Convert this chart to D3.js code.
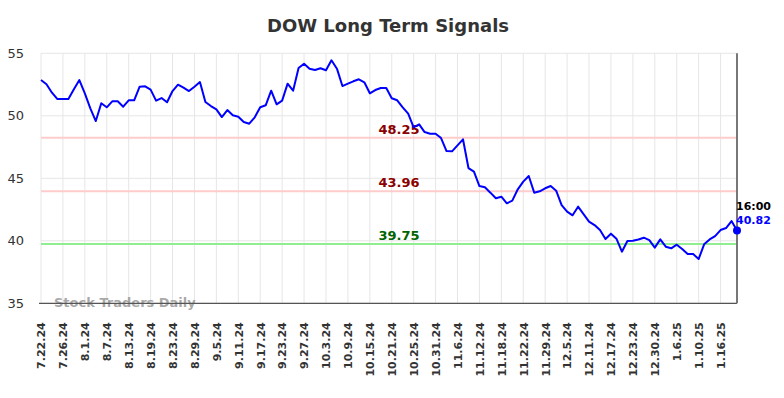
<!DOCTYPE html>
<html><head><meta charset="utf-8">
<script src="https://cdn.jsdelivr.net/npm/d3@7"></script>
<style>body{margin:0;background:#fff;}svg{display:block;font-family:"DejaVu Sans",sans-serif;}</style>
</head><body><svg id="c" width="784" height="398"></svg>
<script>
const dates = ["7.22.24","7.23.24","7.24.24","7.25.24","7.26.24","7.29.24","7.30.24","7.31.24",
"8.1.24","8.2.24","8.5.24","8.6.24","8.7.24","8.8.24","8.9.24","8.12.24","8.13.24","8.14.24","8.15.24","8.16.24",
"8.19.24","8.20.24","8.21.24","8.22.24","8.23.24","8.26.24","8.27.24","8.28.24","8.29.24","8.30.24",
"9.3.24","9.4.24","9.5.24","9.6.24","9.9.24","9.10.24","9.11.24","9.12.24","9.13.24","9.16.24","9.17.24","9.18.24","9.19.24","9.20.24",
"9.23.24","9.24.24","9.25.24","9.26.24","9.27.24","9.30.24",
"10.1.24","10.2.24","10.3.24","10.4.24","10.7.24","10.8.24","10.9.24","10.10.24","10.11.24","10.14.24","10.15.24","10.16.24","10.17.24","10.18.24",
"10.21.24","10.22.24","10.23.24","10.24.24","10.25.24","10.28.24","10.29.24","10.30.24","10.31.24",
"11.1.24","11.4.24","11.5.24","11.6.24","11.7.24","11.8.24","11.11.24","11.12.24","11.13.24","11.14.24","11.15.24",
"11.18.24","11.19.24","11.20.24","11.21.24","11.22.24","11.25.24","11.26.24","11.27.24","11.29.24",
"12.2.24","12.3.24","12.4.24","12.5.24","12.6.24","12.9.24","12.10.24","12.11.24","12.12.24","12.13.24",
"12.16.24","12.17.24","12.18.24","12.19.24","12.20.24","12.23.24","12.24.24","12.26.24","12.27.24","12.30.24","12.31.24",
"1.2.25","1.3.25","1.6.25","1.7.25","1.8.25","1.9.25","1.10.25","1.13.25","1.14.25","1.15.25","1.16.25","1.17.25","1.21.25","1.22.25"];
const prices = [52.86,52.52,51.85,51.34,51.34,51.34,52.12,52.86,51.8,50.6,
49.58,51.0,50.68,51.16,51.16,50.73,51.24,51.24,52.33,52.36,
52.09,51.21,51.42,51.08,51.98,52.49,52.25,51.98,52.33,52.7,
51.1,50.78,50.52,49.9,50.46,50.04,49.93,49.5,49.37,49.88,
50.68,50.84,52.01,50.92,51.21,52.57,52.01,53.82,54.17,53.77,
53.66,53.8,53.64,54.44,53.77,52.38,52.57,52.76,52.92,52.68,
51.8,52.06,52.22,52.22,51.4,51.24,50.68,50.17,49.08,49.32,
48.7,48.57,48.57,48.22,47.18,47.16,47.64,48.12,45.82,45.53,
44.38,44.28,43.85,43.4,43.53,43.0,43.21,44.12,44.73,45.18,
43.85,43.96,44.2,44.38,44.01,42.86,42.33,42.04,42.73,42.14,
41.53,41.26,40.86,40.14,40.57,40.17,39.13,39.98,40.01,40.11,
40.25,40.06,39.45,40.11,39.53,39.4,39.69,39.34,38.94,38.94,
38.54,39.72,40.11,40.38,40.86,41.02,41.58,40.82];
const tickLabels = ["7.22.24","7.26.24","8.1.24","8.7.24","8.13.24","8.19.24","8.23.24","8.29.24","9.5.24","9.11.24","9.17.24","9.23.24","9.27.24","10.3.24","10.9.24","10.15.24","10.21.24","10.25.24","10.31.24","11.6.24","11.12.24","11.18.24","11.22.24","11.29.24","12.5.24","12.11.24","12.17.24","12.23.24","12.30.24","1.6.25","1.10.25","1.16.25"];
const yTicks = [35,40,45,50,55];
const levels = [48.25, 43.96, 39.75];
const levelKinds = ["res","res","sup"];
const lastTime = "16:00";

const svg = d3.select("#c");
const m = {l:41, r:737, t:53.3, b:303.3};
const x = d3.scalePoint().domain(dates).range([m.l, m.r]);
const y = d3.scaleLinear().domain([35,55]).range([m.b, m.t]);

// grid
svg.append("g").selectAll("line").data(yTicks).join("line")
  .attr("x1", m.l).attr("x2", m.r).attr("y1", d=>y(d)).attr("y2", d=>y(d))
  .attr("stroke","#e6e6e6").attr("stroke-width",1);
svg.append("g").selectAll("line").data(tickLabels).join("line")
  .attr("x1", d=>x(d)).attr("x2", d=>x(d)).attr("y1", m.t).attr("y2", m.b)
  .attr("stroke","#e6e6e6").attr("stroke-width",1);

// y axis labels
const ya = svg.append("g").attr("transform",`translate(${m.l},0)`)
  .call(d3.axisLeft(y).tickValues(yTicks).tickSize(0).tickPadding(17));
ya.select(".domain").remove();
ya.selectAll("text").attr("font-size",13).attr("fill","#333").attr("font-family","DejaVu Sans");

// x axis labels
const xa = svg.append("g").attr("transform",`translate(0,${m.b})`)
  .call(d3.axisBottom(x).tickValues(tickLabels).tickSize(0));
xa.select(".domain").remove();
xa.selectAll("text").attr("font-size",11).attr("font-weight","bold").attr("fill","#333")
  .attr("font-family","DejaVu Sans")
  .attr("text-anchor","end").attr("transform","rotate(-90)")
  .attr("x",-19).attr("y",0).attr("dy","0.35em");

// levels
const lvColor = {res:"#ffcccc", sup:"#90ee90"};
const lvText = {res:"#8b0000", sup:"#006400"};
svg.append("g").selectAll("line").data(levels).join("line")
  .attr("x1", m.l).attr("x2", m.r).attr("y1", d=>y(d)).attr("y2", d=>y(d))
  .attr("stroke",(d,i)=>lvColor[levelKinds[i]]).attr("stroke-width",2);
svg.append("g").selectAll("text").data(levels).join("text")
  .attr("x", 399).attr("y", d=>y(d)-4).attr("text-anchor","middle")
  .attr("font-size",13).attr("font-weight","bold")
  .attr("fill",(d,i)=>lvText[levelKinds[i]]).text(d=>d.toFixed(2));

// watermark
svg.append("text").attr("x",54).attr("y",307).attr("font-size",13).attr("font-weight","bold")
  .attr("fill","#999").attr("fill-opacity",0.85).text("Stock Traders Daily");

// bottom and right axis lines
svg.append("line").attr("x1",m.l-2).attr("x2",m.r).attr("y1",m.b).attr("y2",m.b).attr("stroke","#555").attr("stroke-width",1.3);
svg.append("line").attr("x1",m.r).attr("x2",m.r).attr("y1",m.t).attr("y2",m.b).attr("stroke","#777").attr("stroke-width",2);

// price line
const line = d3.line().x((d,i)=>x(dates[i])).y(d=>y(d));
svg.append("path").datum(prices).attr("d",line).attr("fill","none")
  .attr("stroke","#0000ff").attr("stroke-width",2).attr("stroke-linejoin","round");

const last = prices[prices.length-1];
svg.append("circle").attr("cx",x(dates[dates.length-1])).attr("cy",y(last)).attr("r",4).attr("fill","#0000ff");
svg.append("text").attr("x",m.r-1).attr("y",210).attr("font-size",11).attr("font-weight","bold")
  .attr("fill","#000").text(lastTime);
svg.append("text").attr("x",m.r-1).attr("y",224).attr("font-size",11).attr("font-weight","bold")
  .attr("fill","#0000ff").text(last.toFixed(2));

// title
svg.append("text").attr("x",388).attr("y",32).attr("text-anchor","middle")
  .attr("font-size",18).attr("font-weight","bold").attr("fill","#333").text("DOW Long Term Signals");
</script></body></html>
